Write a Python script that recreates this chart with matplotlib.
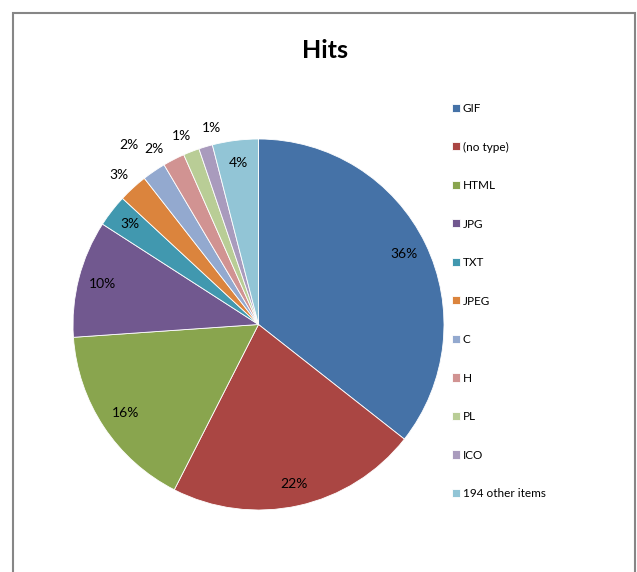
import matplotlib.pyplot as plt
from matplotlib.patches import Rectangle
import numpy as np

plt.rcParams['font.family'] = ['Lato', 'DejaVu Sans']

# --- data ---
types = ['GIF', '(no type)', 'HTML', 'JPG', 'TXT', 'JPEG', 'C', 'H', 'PL', 'ICO',
         '194 other items']
hits_pct = [35.6, 21.9, 16.4, 10.2, 2.8, 2.55, 2.05, 1.9, 1.4, 1.2, 4.0]
colors = ['#4572A7', '#AA4643', '#89A54E', '#71588F', '#4198AF', '#DB843D',
          '#93A9CF', '#D19392', '#B9CD96', '#A99BBD', '#92C5D6']

# label placement (fraction of radius, angular nudge in degrees)
label_r = [0.87, 0.88, 0.86, 0.87, 0.88, 1.10, 1.19, 1.10, 1.10, 1.09, 0.88]
label_dang = [0, 0, 0, 0, 0, 0.5, 1.5, 3.5, 1.0, -3.0, 0]

W, H = 637, 572
fig = plt.figure(figsize=(W / 100, H / 100), dpi=100)

# pie axes: centre (258.5, 324.5) px, radius 185.5 px
cx, cy, R = 258.5, 324.5, 185.5
ax = fig.add_axes([(cx - R) / W, (H - cy - R) / H, 2 * R / W, 2 * R / H])
wedges, _ = ax.pie(hits_pct, colors=colors, startangle=90, counterclock=False,
                   wedgeprops=dict(edgecolor='white', linewidth=0.6))
ax.set_xlim(-1, 1)
ax.set_ylim(-1, 1)
ax.set_aspect('equal')
ax.axis('off')

total = sum(hits_pct)
for w, v, r, da in zip(wedges, hits_pct, label_r, label_dang):
    mid = np.deg2rad((w.theta1 + w.theta2) / 2 + da)
    ax.text(r * np.cos(mid), r * np.sin(mid), '%.0f%%' % (v / total * 100),
            ha='center', va='center', fontsize=10, color='black', clip_on=False)

fig.text(325 / W, 1 - 50.5 / H, 'Hits', ha='center', va='center',
         fontsize=18, fontweight='bold')

fig.legend(wedges, types, loc='upper left', bbox_to_anchor=(452 / W, 1 - 103 / H),
           frameon=False, fontsize=8.5, handlelength=0.68, handleheight=0.68,
           handletextpad=0.22, labelspacing=2.33, borderpad=0, borderaxespad=0)

# chart area border (bottom runs off the image)
fig.add_artist(Rectangle((13 / W, -0.1), (635 - 13) / W, 1.1 - 13 / H,
                         transform=fig.transFigure, fill=False,
                         edgecolor='#868686', linewidth=1.5))

fig.savefig('out.png', dpi=100)
